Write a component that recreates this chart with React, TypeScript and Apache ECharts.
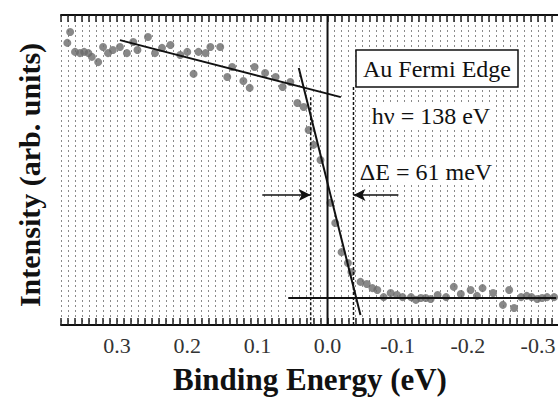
import React, { useEffect, useRef } from "react";
import * as echarts from "echarts";

// Binding energy (eV) of each measured point, and intensity (arb. units)
const energy = [
  0.371, 0.367, 0.36, 0.353, 0.347, 0.341, 0.336, 0.327, 0.32, 0.313, 0.306, 0.296, 0.286, 0.277, 0.271,
  0.256, 0.246, 0.236, 0.224, 0.21, 0.2, 0.191, 0.184, 0.174, 0.167, 0.153, 0.143, 0.136, 0.12, 0.111,
  0.104, 0.089, 0.074, 0.064, 0.053, 0.043, 0.034, 0.027, 0.02, 0.01, -0.004, -0.011, -0.02, -0.029,
  -0.034, -0.047, -0.056, -0.064, -0.071, -0.08, -0.09, -0.099, -0.107, -0.119, -0.126, -0.133, -0.14,
  -0.147, -0.157, -0.169, -0.18, -0.19, -0.204, -0.213, -0.221, -0.236, -0.25, -0.259, -0.266, -0.276,
  -0.284, -0.291, -0.299, -0.306, -0.313, -0.323,
];
const intensity = [
  91.0, 94.5, 88.1, 87.7, 88.1, 87.7, 86.5, 84.8, 89.7, 87.7, 88.7, 89.7, 87.7, 91.3, 88.7,
  92.9, 87.7, 89.4, 90.3, 87.1, 88.1, 81.0, 88.1, 87.7, 89.7, 89.7, 80.0, 83.2, 78.7, 76.5,
  83.2, 81.3, 80.0, 76.8, 78.4, 71.6, 70.3, 62.9, 58.1, 53.2, 39.4, 32.9, 23.5, 20.0,
  17.1, 13.9, 13.2, 11.9, 11.3, 9.0, 10.3, 9.7, 9.0, 9.0, 8.1, 8.7, 8.7,
  8.4, 9.7, 9.0, 12.3, 10.0, 11.3, 9.4, 11.9, 10.3, 6.5, 11.3, 5.5, 9.0,
  9.4, 9.0, 8.4, 8.7, 9.0, 9.0,
];

// Linear fits drawn over the data
const fitAbove = [[0.296, 91.9], [-0.019, 73.5]];
const fitEdge = [[0.041, 82.9], [-0.047, 3.2]];
const fitBelow = [[0.056, 8.7], [-0.326, 8.7]];
const zeroLine = [[0, 0], [0, 100]];
const widthLeft = [[0.024, 73.5], [0.024, 0]];
const widthRight = [[-0.037, 76.8], [-0.037, 0]];
const arrowLeft = [[0.093, 41.9], [0.024, 41.9]];
const arrowRight = [[-0.101, 41.9], [-0.037, 41.9]];

const tickLabels = [0.3, 0.2, 0.1, 0.0, -0.1, -0.2, -0.3];

const title = "Au Fermi Edge";
const photonText = "h\u03bd = 138 eV";
const resolutionText = "\u0394E = 61 meV";
const xName = "Binding Energy (eV)";
const yName = "Intensity (arb. units)";

const SERIF = "Liberation Serif";

export default function App() {
  const ref = useRef<HTMLDivElement>(null);
  useEffect(() => {
    if (!ref.current) return;
    const chart = echarts.init(ref.current, null, { renderer: "svg" });
    const points = energy.map((e, i) => [e, intensity[i]]);
    const lineSeries = (data: number[][], type: any, width: number) => ({
      type: "line",
      data,
      symbol: "none",
      silent: true,
      lineStyle: { color: "#111", width, type },
      z: 4,
    });
    const arrowSeries = (seg: number[][]) => ({
      type: "line",
      data: [],
      symbol: "none",
      markLine: {
        silent: true,
        symbol: ["none", "arrow"],
        symbolSize: [9, 12],
        label: { show: false },
        lineStyle: { color: "#111", width: 1.5, type: "solid" },
        data: [[{ coord: seg[0] }, { coord: seg[1] }]],
      },
    });
    chart.setOption({
      animation: false,
      backgroundColor: "#fff",
      grid: { left: 61, right: -1, top: 15, bottom: 74, outerBoundsMode: "none", containLabel: false },
      xAxis: [
        {
          type: "value",
          inverse: true,
          min: -0.33,
          max: 0.38,
          interval: 0.01,
          name: xName,
          nameLocation: "middle",
          nameGap: 39,
          nameTextStyle: { fontFamily: SERIF, fontSize: 31, fontWeight: "bold", color: "#111" },
          axisLine: { show: true, lineStyle: { color: "#111", width: 2 } },
          axisTick: { show: true, inside: true, length: 7, lineStyle: { color: "#222", width: 1.5 } },
          axisLabel: {
            customValues: tickLabels,
            formatter: (v: number) => v.toFixed(1),
            fontFamily: SERIF,
            fontSize: 22,
            color: "#333",
            margin: 9,
          },
          splitLine: { show: true, lineStyle: { color: "#8a8a8a", width: 1, type: [2, 3] } },
        },
        {
          type: "value",
          inverse: true,
          position: "top",
          min: -0.33,
          max: 0.38,
          interval: 0.01,
          axisLine: { show: true, lineStyle: { color: "#111", width: 2 } },
          axisTick: { show: true, inside: true, length: 7, lineStyle: { color: "#222", width: 1.5 } },
          axisLabel: { show: false },
          splitLine: { show: false },
        },
      ],
      yAxis: {
        type: "value",
        min: 0,
        max: 100,
        axisLine: { show: false },
        axisTick: { show: false },
        axisLabel: { show: false },
        splitLine: { show: false },
      },
      graphic: [
        {
          type: "text",
          x: 29,
          y: 175,
          rotation: Math.PI / 2,
          style: {
            text: yName,
            fontFamily: SERIF,
            fontSize: 30,
            fontWeight: "bold",
            fill: "#111",
            align: "center",
            verticalAlign: "middle",
          },
        },
        {
          type: "rect",
          shape: { x: 356, y: 50, width: 162, height: 37 },
          style: { fill: "#fff", stroke: "#111", lineWidth: 1.5 },
          z: 10,
        },
        {
          type: "text",
          x: 437,
          y: 69,
          style: { text: title, fontFamily: SERIF, fontSize: 24, fill: "#111", align: "center", verticalAlign: "middle" },
          z: 11,
        },
        {
          type: "text",
          x: 431,
          y: 116,
          style: {
            text: photonText,
            fontFamily: SERIF,
            fontSize: 24,
            fill: "#111",
            align: "center",
            verticalAlign: "middle",
            backgroundColor: "#fff",
            padding: [0, 2],
          },
          z: 11,
        },
        {
          type: "text",
          x: 426,
          y: 172,
          style: {
            text: resolutionText,
            fontFamily: SERIF,
            fontSize: 24,
            fill: "#111",
            align: "center",
            verticalAlign: "middle",
            backgroundColor: "#fff",
            padding: [0, 2],
          },
          z: 11,
        },
      ],
      series: [
        {
          type: "scatter",
          data: points,
          symbol: "circle",
          symbolSize: 8,
          itemStyle: { color: "#6a6a6a" },
          z: 3,
        },
        lineSeries(fitAbove, "solid", 2),
        lineSeries(fitEdge, "solid", 2),
        lineSeries(fitBelow, "solid", 2),
        lineSeries(zeroLine, "solid", 2),
        lineSeries(widthLeft, [3, 2], 1.5),
        lineSeries(widthRight, [3, 2], 1.5),
        arrowSeries(arrowLeft),
        arrowSeries(arrowRight),
      ],
    });
    return () => chart.dispose();
  }, []);
  return <div ref={ref} style={{ width: 558, height: 399, position: "absolute", left: 0, top: 0 }} />;
}
